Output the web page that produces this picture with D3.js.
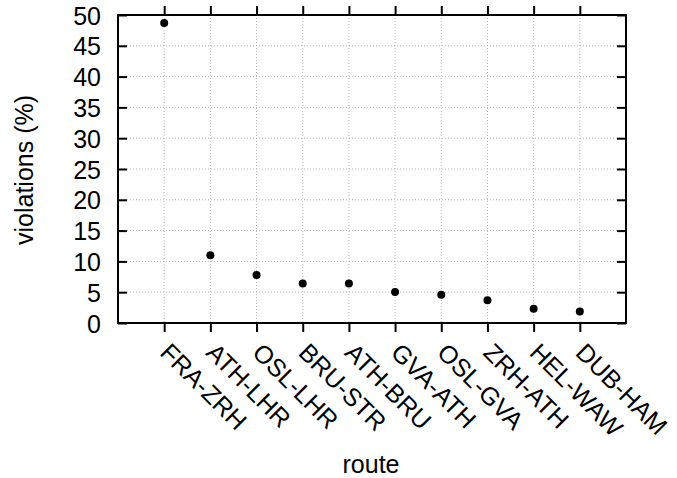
<!DOCTYPE html>
<html>
<head>
<meta charset="utf-8">
<script src="https://cdn.jsdelivr.net/npm/d3@7"></script>
<style>
  html, body { margin: 0; padding: 0; background: #fff; }
  svg { display: block; }
  text { font-family: "Liberation Sans", Arial, sans-serif; fill: #000; }
</style>
</head>
<body>
<svg id="chart" width="677" height="478"></svg>
<script>
const routes = ["FRA-ZRH","ATH-LHR","OSL-LHR","BRU-STR","ATH-BRU","GVA-ATH","OSL-GVA","ZRH-ATH","HEL-WAW","DUB-HAM"];
const violations = [48.7, 11.0, 7.8, 6.4, 6.4, 5.05, 4.6, 3.7, 2.3, 1.85];
const yTicks = [0, 5, 10, 15, 20, 25, 30, 35, 40, 45, 50];

const W = 677, H = 478;
const m = { left: 118, right: 51, top: 15, bottom: 155 };
const pw = W - m.left - m.right, ph = H - m.top - m.bottom;
const fs = 25;

const svg = d3.select("#chart");
const g = svg.append("g").attr("transform", `translate(${m.left},${m.top})`);

const x = d3.scaleLinear().domain([0, routes.length + 1]).range([0, pw]);
const y = d3.scaleLinear().domain([0, 50]).range([ph, 0]);
const idx = d3.range(1, routes.length + 1);

// grid
const grid = g.append("g");
grid.selectAll("line.vx").data(idx).join("line")
  .attr("x1", d => x(d)).attr("x2", d => x(d)).attr("y1", 0).attr("y2", ph)
  .attr("stroke", "#b8b8b8").attr("stroke-width", 1).attr("stroke-dasharray", "1,2");
grid.selectAll("line.hy").data(yTicks.filter(v => v > 0 && v < 50)).join("line")
  .attr("x1", 0).attr("x2", pw).attr("y1", d => y(d)).attr("y2", d => y(d))
  .attr("stroke", "#b8b8b8").attr("stroke-width", 1).attr("stroke-dasharray", "1,2");

// axes
const xb = d3.axisBottom(x).tickValues(idx).tickSize(9).tickFormat(d => routes[d - 1]);
const xt = d3.axisTop(x).tickValues(idx).tickSize(9).tickFormat("");
const yl = d3.axisLeft(y).tickValues(yTicks).tickSize(-9).tickPadding(17);
const yr = d3.axisRight(y).tickValues(yTicks).tickSize(-9).tickFormat("");

const gxb = g.append("g").attr("transform", `translate(0,${ph})`).call(xb);
const gxt = g.append("g").call(xt);
const gyl = g.append("g").call(yl);
const gyr = g.append("g").attr("transform", `translate(${pw},0)`).call(yr);

[gxb, gxt, gyl, gyr].forEach(a => {
  a.select(".domain").remove();
  a.attr("font-size", null).attr("font-family", null);
  a.selectAll(".tick line").attr("stroke", "#000").attr("stroke-width", 2);
  a.selectAll("text").style("font-size", fs + "px").attr("fill", "#000");
});

gxb.selectAll(".tick text")
  .attr("text-anchor", "start")
  .attr("dy", null)
  .attr("y", 0)
  .attr("transform", "translate(-6,31) rotate(45)");

gyl.selectAll(".tick text").attr("dy", "0.36em");

// border
g.append("rect").attr("x", 0).attr("y", 0).attr("width", pw).attr("height", ph)
  .attr("fill", "none").attr("stroke", "#000").attr("stroke-width", 2);

// points
g.selectAll("circle.pt").data(violations).join("circle")
  .attr("cx", (d, i) => x(i + 1)).attr("cy", d => y(d)).attr("r", 4).attr("fill", "#000");

// labels
svg.append("text").attr("transform", `translate(33,170) rotate(-90)`)
  .attr("text-anchor", "middle").style("font-size", fs + "px").text("violations (%)");
svg.append("text").attr("x", 371).attr("y", 473)
  .attr("text-anchor", "middle").style("font-size", fs + "px").text("route");
</script>
</body>
</html>
